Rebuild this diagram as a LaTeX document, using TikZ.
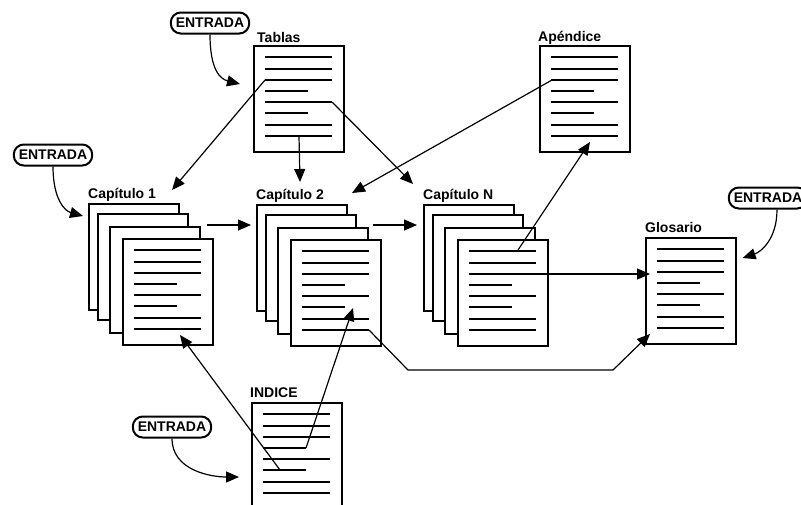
\documentclass[tikz,border=0pt]{standalone}
\usepackage{fontspec}
\setmainfont{Liberation Sans}
\usetikzlibrary{arrows.meta,calc}
\begin{document}
\begin{tikzpicture}[x=1pt,y=-1pt,
  doc/.style={draw, fill=white, line width=1.6pt, minimum width=90pt, minimum height=106pt, inner sep=0pt, anchor=north west},
  tline/.style={line width=2pt},
  lbl/.style={anchor=base west, inner sep=0pt, font=\bfseries\fontsize{14}{15}\selectfont},
  pill/.style={draw, fill=white, line width=2pt, rounded corners=10pt, font=\bfseries\fontsize{14}{14}\selectfont, inner xsep=5pt, inner ysep=0pt, minimum height=21pt},
  conn/.style={line width=1.2pt, -{Triangle[length=13pt,width=11pt]}}
]
\useasboundingbox (0,0) rectangle (801,504);
\fill[white] (0,0) rectangle (801,504);
\clip (0,0) rectangle (801,504);

\newcommand\doclines[1]{%
  \foreach \yy/\ll in {12/79,24/79,35/79,46/55,57/79,68/55,80/79,91/79}
    \draw[tline] ($(#1.north west)+(12,\yy)$) -- ($(#1.north west)+(\ll,\yy)$);}

% single documents
\node[doc] (tab) at (253,45) {};  \doclines{tab}
\node[doc] (apx) at (539,45) {};  \doclines{apx}
\node[doc] (glo) at (645,237) {}; \doclines{glo}
\node[doc] (ind) at (251,402) {}; \doclines{ind}

% stacks
\node[doc] (c1s1) at (88,203) {};
\node[doc] (c1s2) at (97,213) {};
\node[doc] (c1s3) at (109,226) {};
\node[doc] (c1) at (122,238) {}; \doclines{c1}

\node[doc] (c2s1) at (256,204) {};
\node[doc] (c2s2) at (265,214) {};
\node[doc] (c2s3) at (277,227) {};
\node[doc] (c2) at (290,239) {}; \doclines{c2}

\node[doc] (cNs1) at (423,204) {};
\node[doc] (cNs2) at (432,214) {};
\node[doc] (cNs3) at (444,227) {};
\node[doc] (cN) at (457,239) {}; \doclines{cN}

% labels
\node[lbl] (ltab) at ($(tab.north west)+(4,-3)$) {Tablas};
\node[lbl] (lapx) at ($(apx.north west)+(-1,-4)$) {Apéndice};
\node[lbl] (lglo) at ($(glo.north west)+(0,-5)$) {Glosario};
\node[lbl] (lind) at ($(ind.north west)+(-1,-5)$) {INDICE};
\node[lbl] (lc1) at ($(c1s1.north west)+(0,-5)$) {Capítulo 1};
\node[lbl] (lc2) at ($(c2s1.north west)+(0,-5)$) {Capítulo 2};
\node[lbl] (lcN) at ($(cNs1.north west)+(0,-5)$) {Capítulo N};

% ENTRADA pills
\node[pill] (e1) at (210,23) {ENTRADA};
\node[pill] (e2) at (53,155) {ENTRADA};
\node[pill] (e3) at (768,198) {ENTRADA};
\node[pill] (e4) at (172,427) {ENTRADA};

% connector end points
\coordinate (tabA) at ($(tab.north west)+(12,35)$);
\coordinate (c1in) at ($(c1s1.north west)+(84,-13)$);
\coordinate (tabB) at ($(tab.north west)+(46,91)$);
\coordinate (c2in) at ($(c2s1.north west)+(44,-22)$);
\coordinate (tabC) at ($(tab.north west)+(79,57)$);
\coordinate (cNin) at ($(cNs1.north west)+(-10,-20)$);
\coordinate (apxA) at ($(apx.north west)+(13,35)$);
\coordinate (c2inB) at ($(c2s1.north west)+(96,-11)$);
\coordinate (c1out) at ($(c1s3.north east)+(6,-1)$);
\coordinate (c2w) at ($(c2s1.north west)+(-5,21)$);
\coordinate (c2out) at ($(c2s3.north east)+(4,-2)$);
\coordinate (cNw) at ($(cNs1.north west)+(-6,21)$);
\coordinate (cNA) at ($(cN.north west)+(61,11)$);
\coordinate (apxB) at ($(apx.north west)+(51,97)$);
\coordinate (cNB) at ($(cN.north west)+(79,35)$);
\coordinate (gloA) at ($(glo.north west)+(5,37)$);
\coordinate (c2B) at ($(c2.north west)+(79,91)$);
\coordinate (k1) at (408,370);
\coordinate (k2) at (613,370);
\coordinate (gloB) at ($(glo.north west)+(5,97)$);
\coordinate (indA) at ($(ind.north west)+(29,68)$);
\coordinate (c1B) at ($(c1.north west)+(58,97)$);
\coordinate (indB) at ($(ind.north west)+(55,46)$);
\coordinate (c2C) at ($(c2.north west)+(63,69)$);
\coordinate (t1) at ($(tab.north west)+(-13,39)$);
\coordinate (t2) at ($(c1s1.north west)+(-5,13)$);
\coordinate (t3) at ($(glo.north east)+(6,21)$);
\coordinate (t4) at ($(ind.north west)+(-12,75)$);
\coordinate (e3s) at ($(e3.south)+(9,0)$);

% connectors
\draw[conn] (tabA) -- (c1in);
\draw[conn] (tabB) -- (c2in);
\draw[conn] (tabC) -- (cNin);
\draw[conn] (apxA) -- (c2inB);
\draw[conn] (c1out) -- (c2w);
\draw[conn] (c2out) -- (cNw);
\draw[conn] (cNA) -- (apxB);
\draw[conn] (cNB) -- (gloA);
\draw[conn] (c2B) -- (k1) -- (k2) -- (gloB);
\draw[conn] (indA) -- (c1B);
\draw[conn] (indB) -- (c2C);

% ENTRADA curves
\draw[conn] (e1.south) .. controls +(0,35) and +(-20,-5) .. (t1);
\draw[conn] (e2.south) .. controls +(0,33) and +(-18,-5) .. (t2);
\draw[conn] (e3s) .. controls +(0,30) and +(18,-6) .. (t3);
\draw[conn] (e4.south) .. controls +(0,32) and +(-28,0) .. (t4);
\end{tikzpicture}
\end{document}
